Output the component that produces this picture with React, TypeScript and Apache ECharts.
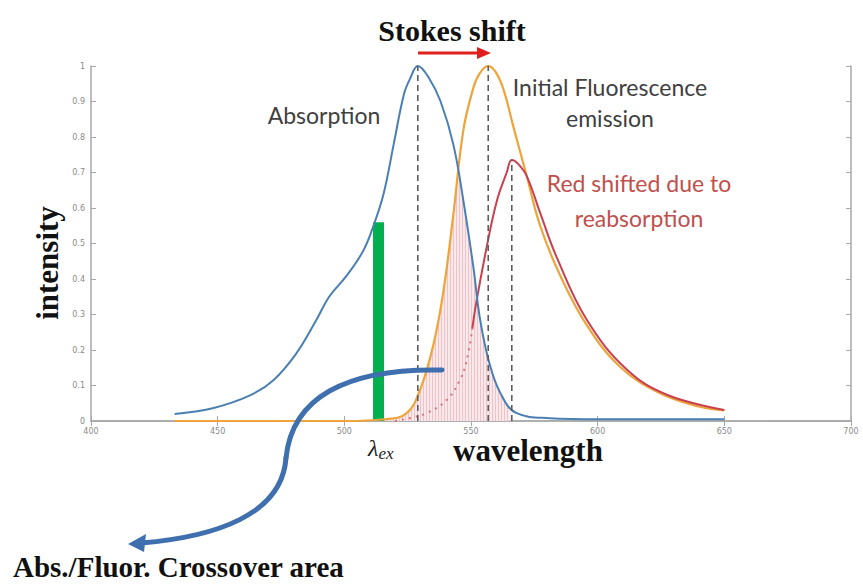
import React, { useEffect, useRef } from "react";
import * as echarts from "echarts";

// Wavelength axis (nm) and intensity axis
const xMin = 400;
const xMax = 700;
const xStep = 50;
const yMin = 0;
const yMax = 1;
const yStep = 0.1;

// Absorption spectrum
const absWl = [433, 448, 463, 472, 481, 489, 494, 501, 507.5, 511.5, 515.5, 519.5, 523.5, 526, 529, 533.5, 538, 543, 547, 551, 553.5, 557, 561.5, 568, 581, 600, 650];
const absVal = [0.02, 0.036, 0.073, 0.115, 0.19, 0.285, 0.35, 0.41, 0.48, 0.55, 0.64, 0.78, 0.92, 0.965, 1.0, 0.965, 0.9, 0.78, 0.62, 0.43, 0.29, 0.17, 0.08, 0.022, 0.008, 0.005, 0.005];

// Initial fluorescence emission
const emWl = [433, 500, 516, 524.6, 530, 535, 539, 543, 547, 551, 553.5, 556.8, 560, 563, 566.7, 572, 577.3, 585.2, 595.7, 608.8, 624.6, 640.4, 650];
const emVal = [0, 0, 0.005, 0.022, 0.09, 0.21, 0.36, 0.58, 0.82, 0.94, 0.98, 1.0, 0.98, 0.93, 0.83, 0.69, 0.55, 0.41, 0.27, 0.153, 0.078, 0.04, 0.03];

// Red-shifted emission after reabsorption (hidden part, then visible part)
const redHiddenWl = [520, 527, 532.5, 540.4, 545.6, 548.3, 550.5];
const redHiddenVal = [0, 0.01, 0.022, 0.059, 0.115, 0.17, 0.26];
const redWl = [550.5, 552, 556.2, 560.2, 564.1, 566.1, 568.5, 572, 577.3, 583.9, 595.7, 611.5, 627.3, 650];
const redVal = [0.26, 0.33, 0.49, 0.62, 0.7, 0.735, 0.725, 0.69, 0.586, 0.46, 0.285, 0.145, 0.074, 0.031];

// Absorption / fluorescence crossover region
const overlapWl = [516, 524.6, 530, 535, 539, 543, 545, 547, 551, 553.5, 557, 561.5, 565.5];
const overlapVal = [0.005, 0.022, 0.09, 0.21, 0.36, 0.58, 0.7, 0.62, 0.43, 0.285, 0.17, 0.08, 0.04];

// Excitation wavelength marker
const exWl = 513.5;
const exVal = 0.56;

// Peak markers (wavelength, height)
const peakWl = [529, 556.8, 566.1];
const peakTop = [1.0, 1.0, 0.735];

const zip = (xs: number[], ys: number[]) => xs.map((x, i) => [x, ys[i]]);

function stripePattern(): HTMLCanvasElement {
  const c = document.createElement("canvas");
  c.width = 3;
  c.height = 8;
  const ctx = c.getContext("2d")!;
  ctx.fillStyle = "rgb(250,233,235)";
  ctx.fillRect(0, 0, 3, 8);
  ctx.fillStyle = "rgb(238,194,200)";
  ctx.fillRect(0, 0, 1, 8);
  return c;
}

const SERIF = "'Liberation Serif', 'Times New Roman', serif";
const SANS = "Lato, 'Open Sans', sans-serif";

const centered = { align: "center", verticalAlign: "middle", textAlign: "center", textVerticalAlign: "middle" };

export default function App() {
  const ref = useRef<HTMLDivElement>(null);

  useEffect(() => {
    if (!ref.current) return;
    const chart = echarts.init(ref.current, undefined, { renderer: "svg" });

    const axisLine = { show: true, lineStyle: { color: "#a8a8a8", width: 1.5 } };
    const axisTick = { show: true, inside: true, length: 5, lineStyle: { color: "#a8a8a8", width: 1 } };
    const tickLabel = { color: "#8a8a8a", fontSize: 8, fontFamily: "'DejaVu Sans', sans-serif" };

    const lineBase = { type: "line" as const, symbol: "none", smooth: 0.4, xAxisIndex: 0, yAxisIndex: 0 };

    const peakSeries = peakWl.map((w, i) => ({
      ...lineBase,
      smooth: false,
      data: [[w, 0], [w, peakTop[i]]],
      lineStyle: { color: "#5c5c5c", width: 1.6, type: [6, 4] },
      z: 6,
    }));

    const option: any = {
      animation: false,
      backgroundColor: "#ffffff",
      grid: { left: 91, right: 12, top: 66, bottom: 163, containLabel: false },
      xAxis: [
        {
          type: "value", min: xMin, max: xMax, interval: xStep, position: "bottom",
          axisLine, axisTick, splitLine: { show: false },
          axisLabel: { ...tickLabel, margin: 6 },
        },
        {
          type: "value", min: xMin, max: xMax, interval: xStep, position: "top",
          axisLine, axisTick, splitLine: { show: false }, axisLabel: { show: false },
        },
      ],
      yAxis: [
        {
          type: "value", min: yMin, max: yMax, interval: yStep, position: "left",
          axisLine, axisTick, splitLine: { show: false },
          axisLabel: { ...tickLabel, margin: 6 },
        },
        {
          type: "value", min: yMin, max: yMax, interval: yStep, position: "right",
          axisLine, axisTick, splitLine: { show: false }, axisLabel: { show: false },
        },
      ],
      series: [
        {
          ...lineBase,
          smooth: 0.3,
          data: zip(overlapWl, overlapVal),
          lineStyle: { width: 0 },
          areaStyle: { color: { image: stripePattern(), repeat: "repeat" }, opacity: 1 },
          z: 1,
        },
        {
          type: "bar",
          xAxisIndex: 0,
          yAxisIndex: 0,
          data: [[exWl, exVal]],
          barWidth: 11,
          itemStyle: { color: "#00b04f" },
          z: 2,
        },
        {
          ...lineBase,
          data: zip(absWl, absVal),
          lineStyle: { color: "#4a7fb3", width: 2 },
          z: 4,
        },
        {
          ...lineBase,
          data: zip(emWl, emVal),
          lineStyle: { color: "#eea43a", width: 2.2 },
          z: 3,
        },
        {
          ...lineBase,
          data: zip(redHiddenWl, redHiddenVal),
          lineStyle: { color: "#d9707e", width: 2, type: [2, 5] },
          z: 3,
        },
        {
          ...lineBase,
          data: zip(redWl, redVal),
          lineStyle: { color: "#c8414f", width: 2 },
          z: 3,
        },
        ...peakSeries,
      ],
      graphic: [
        // Stokes shift heading and arrow
        {
          type: "text", x: 452, y: 30, z: 100,
          style: { text: "Stokes shift", font: `bold 30px ${SERIF}`, fill: "#111", ...centered },
        },
        { type: "line", z: 100, shape: { x1: 418, y1: 53, x2: 481, y2: 53 }, style: { stroke: "#e0201c", lineWidth: 3 } },
        { type: "polygon", z: 100, shape: { points: [[477, 47], [491, 53], [477, 59]] }, style: { fill: "#e0201c" } },
        // Curve labels
        {
          type: "text", x: 324, y: 115, z: 100,
          style: { text: "Absorption", font: `23px ${SANS}`, fill: "#404040", ...centered },
        },
        {
          type: "text", x: 610, y: 87, z: 100,
          style: { text: "Initial Fluorescence", font: `23px ${SANS}`, fill: "#404040", ...centered },
        },
        {
          type: "text", x: 610, y: 118, z: 100,
          style: { text: "emission", font: `23px ${SANS}`, fill: "#404040", ...centered },
        },
        {
          type: "text", x: 639, y: 183, z: 100,
          style: { text: "Red shifted due to", font: `23px ${SANS}`, fill: "#c0504d", ...centered },
        },
        {
          type: "text", x: 639, y: 218, z: 100,
          style: { text: "reabsorption", font: `23px ${SANS}`, fill: "#c0504d", ...centered },
        },
        // Axis titles
        {
          type: "text", x: 47, y: 263, rotation: Math.PI / 2, z: 100,
          style: { text: "intensity", font: `bold 31px ${SERIF}`, fill: "#111", ...centered },
        },
        {
          type: "text", x: 528, y: 450, z: 100,
          style: { text: "wavelength", font: `bold 31px ${SERIF}`, fill: "#111", ...centered },
        },
        {
          type: "text", x: 368, y: 448, z: 100,
          style: {
            text: "{l|λ}{s|ex}",
            align: "left", verticalAlign: "middle", textAlign: "left", textVerticalAlign: "middle",
            rich: {
              l: { font: `italic 24px ${SERIF}`, fill: "#222", verticalAlign: "middle" },
              s: { font: `italic 17px ${SERIF}`, fill: "#222", padding: [10, 0, 0, 0] },
            },
          },
        },
        // Crossover annotation arrow and label
        {
          type: "bezierCurve", z: 100,
          shape: { x1: 442, y1: 370, cpx1: 345, cpy1: 368, cpx2: 292, cpy2: 398, x2: 286, y2: 458 },
          style: { stroke: "#3f6fae", lineWidth: 5, fill: null, lineCap: "round" },
        },
        {
          type: "bezierCurve", z: 100,
          shape: { x1: 286, y1: 458, cpx1: 282, cpy1: 515, cpx2: 215, cpy2: 537, x2: 141, y2: 543 },
          style: { stroke: "#3f6fae", lineWidth: 5, fill: null, lineCap: "round" },
        },
        { type: "polygon", z: 100, shape: { points: [[128, 544], [146, 534], [144, 552]] }, style: { fill: "#3f6fae" } },
        {
          type: "text", x: 13, y: 567, z: 100,
          style: { text: "Abs./Fluor. Crossover area", font: `bold 29px ${SERIF}`, fill: "#111", align: "left", verticalAlign: "middle", textAlign: "left", textVerticalAlign: "middle" },
        },
      ],
    };

    chart.setOption(option);
    return () => chart.dispose();
  }, []);

  return <div ref={ref} style={{ position: "fixed", left: 0, top: 0, width: 863, height: 584, background: "#fff" }} />;
}
